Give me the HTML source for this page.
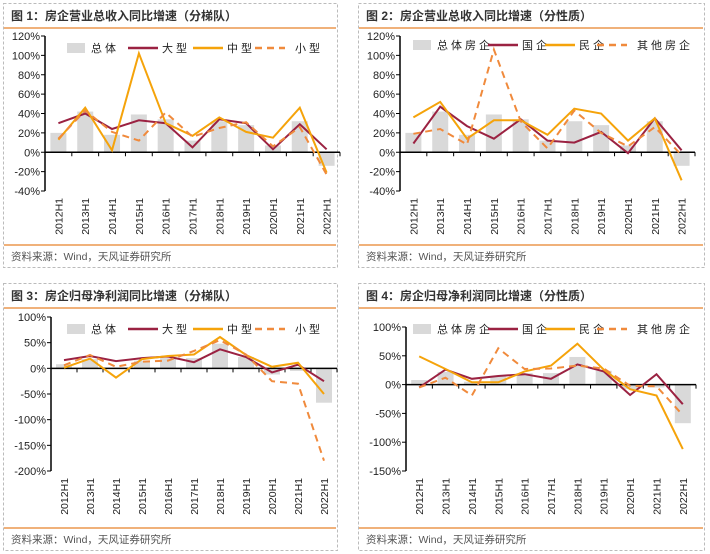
<!DOCTYPE html>
<html><head><meta charset="utf-8"><style>
body{margin:0;background:#fff;width:710px;height:554px;overflow:hidden;font-family:"Liberation Sans","Noto Sans CJK SC",sans-serif}
svg{position:absolute;left:0;top:0}
</style></head><body>
<svg id="s" width="710" height="554"></svg>
<script>
const cats=["2012H1","2013H1","2014H1","2015H1","2016H1","2017H1","2018H1","2019H1","2020H1","2021H1","2022H1"];
const c1Total=[20,42,18,39,34,12,32,28,7,32,-14];
const c1Large=[30,40,24,33,30,5,34,30,3,29,3];
const c1Mid=[13,46,2,102,30,17,36,21,15,46,-21];
const c1Small=[14,43,21,12,41,16,25,31,6,26,-23];
const c2Total=[20,42,18,39,34,12,32,28,7,32,-14];
const c2State=[9,47,27,14,34,12,10,21,-1,35,2];
const c2Private=[36,52,14,33,33,18,45,40,12,35,-29];
const c2Other=[19,24,8,106,32,4,43,20,6,26,-3];
const c3Total=[8,18,0,15,20,20,48,22,-12,-5,-67];
const c3Large=[16,24,14,20,23,12,37,22,-8,7,-25];
const c3Mid=[1,19,-18,18,24,27,61,26,3,11,-50];
const c3Small=[6,26,3,13,15,34,55,27,-25,-30,-180];
const c4Total=[8,22,5,14,20,20,48,24,-8,-5,-67];
const c4State=[-5,26,10,15,18,10,35,23,-18,18,-34];
const c4Private=[49,27,4,4,23,33,71,26,-8,-19,-112];
const c4Other=[-5,12,-19,63,27,28,33,28,-2,-3,-53];
const ticks1=[120,100,80,60,40,20,0,-20,-40];
const ticks3=[100,50,0,-50,-100,-150,-200];
const ticks4=[100,50,0,-50,-100,-150];
const names1=["总体","大型","中型","小型"];
const names2=["总体房企","国企","民企","其他房企"];

const NS="http://www.w3.org/2000/svg";
const S=document.getElementById('s');
function el(t,a,p){const e=document.createElementNS(NS,t);for(const k in a)e.setAttribute(k,a[k]);(p||S).appendChild(e);return e;}
function tx(x,y,s,a,p){const e=el('text',Object.assign({x:x,y:y,'font-size':11,fill:'#222'},a),p);e.textContent=s;return e;}

function panel(o){
  const g=el('g',{});
  
  
  el('rect',{x:o.x+0.5,y:o.y+0.5,width:o.w,height:o.h,fill:'none',stroke:'#bbb','stroke-dasharray':'3,2'},g);
  el('line',{x1:o.x+1,x2:o.x+o.w-1,y1:o.y+25,y2:o.y+25,stroke:'#e8822a','stroke-width':1.2},g);
  const t=tx(o.x+8,o.y+17,o.title,{'font-size':12,'font-weight':'bold',fill:'#333'},g);
  
  el('line',{x1:o.x+1,x2:o.x+o.w-1,y1:o.y+o.h-22,y2:o.y+o.h-22,stroke:'#e8822a','stroke-width':1.2},g);
  const f=tx(o.x+8,o.y+o.h-7,'资料来源：Wind，天风证券研究所',{'font-size':10.5,fill:'#555'},g);
  
  const ax=o.ax, n=cats.length, step=(o.xe-ax)/n;
  const y=v=>o.y0+(v-o.ymax)*(o.y1-o.y0)/(o.ymin-o.ymax);
  const xc=i=>ax+step*(i+0.5);
  // bars
  o.series[0].forEach((v,i)=>{const b=el('rect',{x:xc(i)-8,y:Math.min(y(v),y(0)),width:16,height:Math.abs(y(v)-y(0)),fill:'#d9d9d9'},g);
    });
  // axes
  el('line',{x1:ax,x2:ax,y1:y(o.ymax),y2:y(o.ymin),stroke:'#000','stroke-width':1.5},g);
  o.ticks.forEach(v=>{el('line',{x1:ax-4,x2:ax,y1:y(v),y2:y(v),stroke:'#000'},g);
    const l=tx(ax-5,y(v)+4,v+'%',{'text-anchor':'end','font-size':11},g);
    });
  el('line',{x1:ax,x2:o.xe,y1:y(0),y2:y(0),stroke:'#000','stroke-width':1.5},g);
  for(let i=1;i<=n;i++)el('line',{x1:ax+step*i,x2:ax+step*i,y1:y(0),y2:y(0)+4,stroke:'#000'},g);
  cats.forEach((c,i)=>{const l=tx(0,0,c,{'text-anchor':'end','font-size':10.5,transform:`translate(${xc(i)+4},${o.labY}) rotate(-90)`},g);
    });
  const styles=[null,{stroke:'#9b2242'},{stroke:'#f5a30a'},{stroke:'#f08a3c','stroke-dasharray':'7,5'}];
  for(let s=1;s<4;s++){
    const d=o.series[s].map((v,i)=>(i?'L':'M')+xc(i).toFixed(1)+','+y(v).toFixed(1)).join('');
    const p=el('path',Object.assign({d:d,fill:'none','stroke-width':2},styles[s]),g);
    
  }
  // legend
  const lg=el('g',{},g);
  
  const L=o.leg, ly=o.ly;
  el('rect',{x:L[0],y:ly-5,width:18,height:10,fill:'#d9d9d9'},lg);
  tx(L[0]+24,ly+4,o.names[0],{'font-size':11,'letter-spacing':'3'},lg);
  for(let s=1;s<4;s++){el('line',Object.assign({x1:L[s],x2:L[s]+30,y1:ly,y2:ly,'stroke-width':2.5},styles[s]),lg);
    tx(L[s]+34+(s==3?6:0),ly+4,o.names[s],{'font-size':11,'letter-spacing':'3'},lg);}
}
panel({id:'chart-revenue-by-tier',x:3,y:3,w:334,h:264,title:'图 1：房企营业总收入同比增速（分梯队）',ax:45,xe:340,y0:36,y1:191,ymax:120,ymin:-40,ticks:ticks1,labY:198,series:[c1Total,c1Large,c1Mid,c1Small],names:names1,leg:[67,128,193,255],ly:48});
panel({id:'chart-revenue-by-ownership',x:358,y:3,w:346,h:264,title:'图 2：房企营业总收入同比增速（分性质）',ax:400,xe:695,y0:36,y1:191,ymax:120,ymin:-40,ticks:ticks1,labY:198,series:[c2Total,c2State,c2Private,c2Other],names:names2,leg:[413,488,545,597],ly:45});
panel({id:'chart-profit-by-tier',x:3,y:283,w:334,h:267,title:'图 3：房企归母净利润同比增速（分梯队）',ax:51,xe:337,y0:317,y1:471,ymax:100,ymin:-200,ticks:ticks3,labY:478,series:[c3Total,c3Large,c3Mid,c3Small],names:names1,leg:[67,128,193,255],ly:329});
panel({id:'chart-profit-by-ownership',x:358,y:283,w:346,h:267,title:'图 4：房企归母净利润同比增速（分性质）',ax:406,xe:696,y0:327,y1:471,ymax:100,ymin:-150,ticks:ticks4,labY:478,series:[c4Total,c4State,c4Private,c4Other],names:names2,leg:[413,488,545,597],ly:329});
</script>
</body></html>
